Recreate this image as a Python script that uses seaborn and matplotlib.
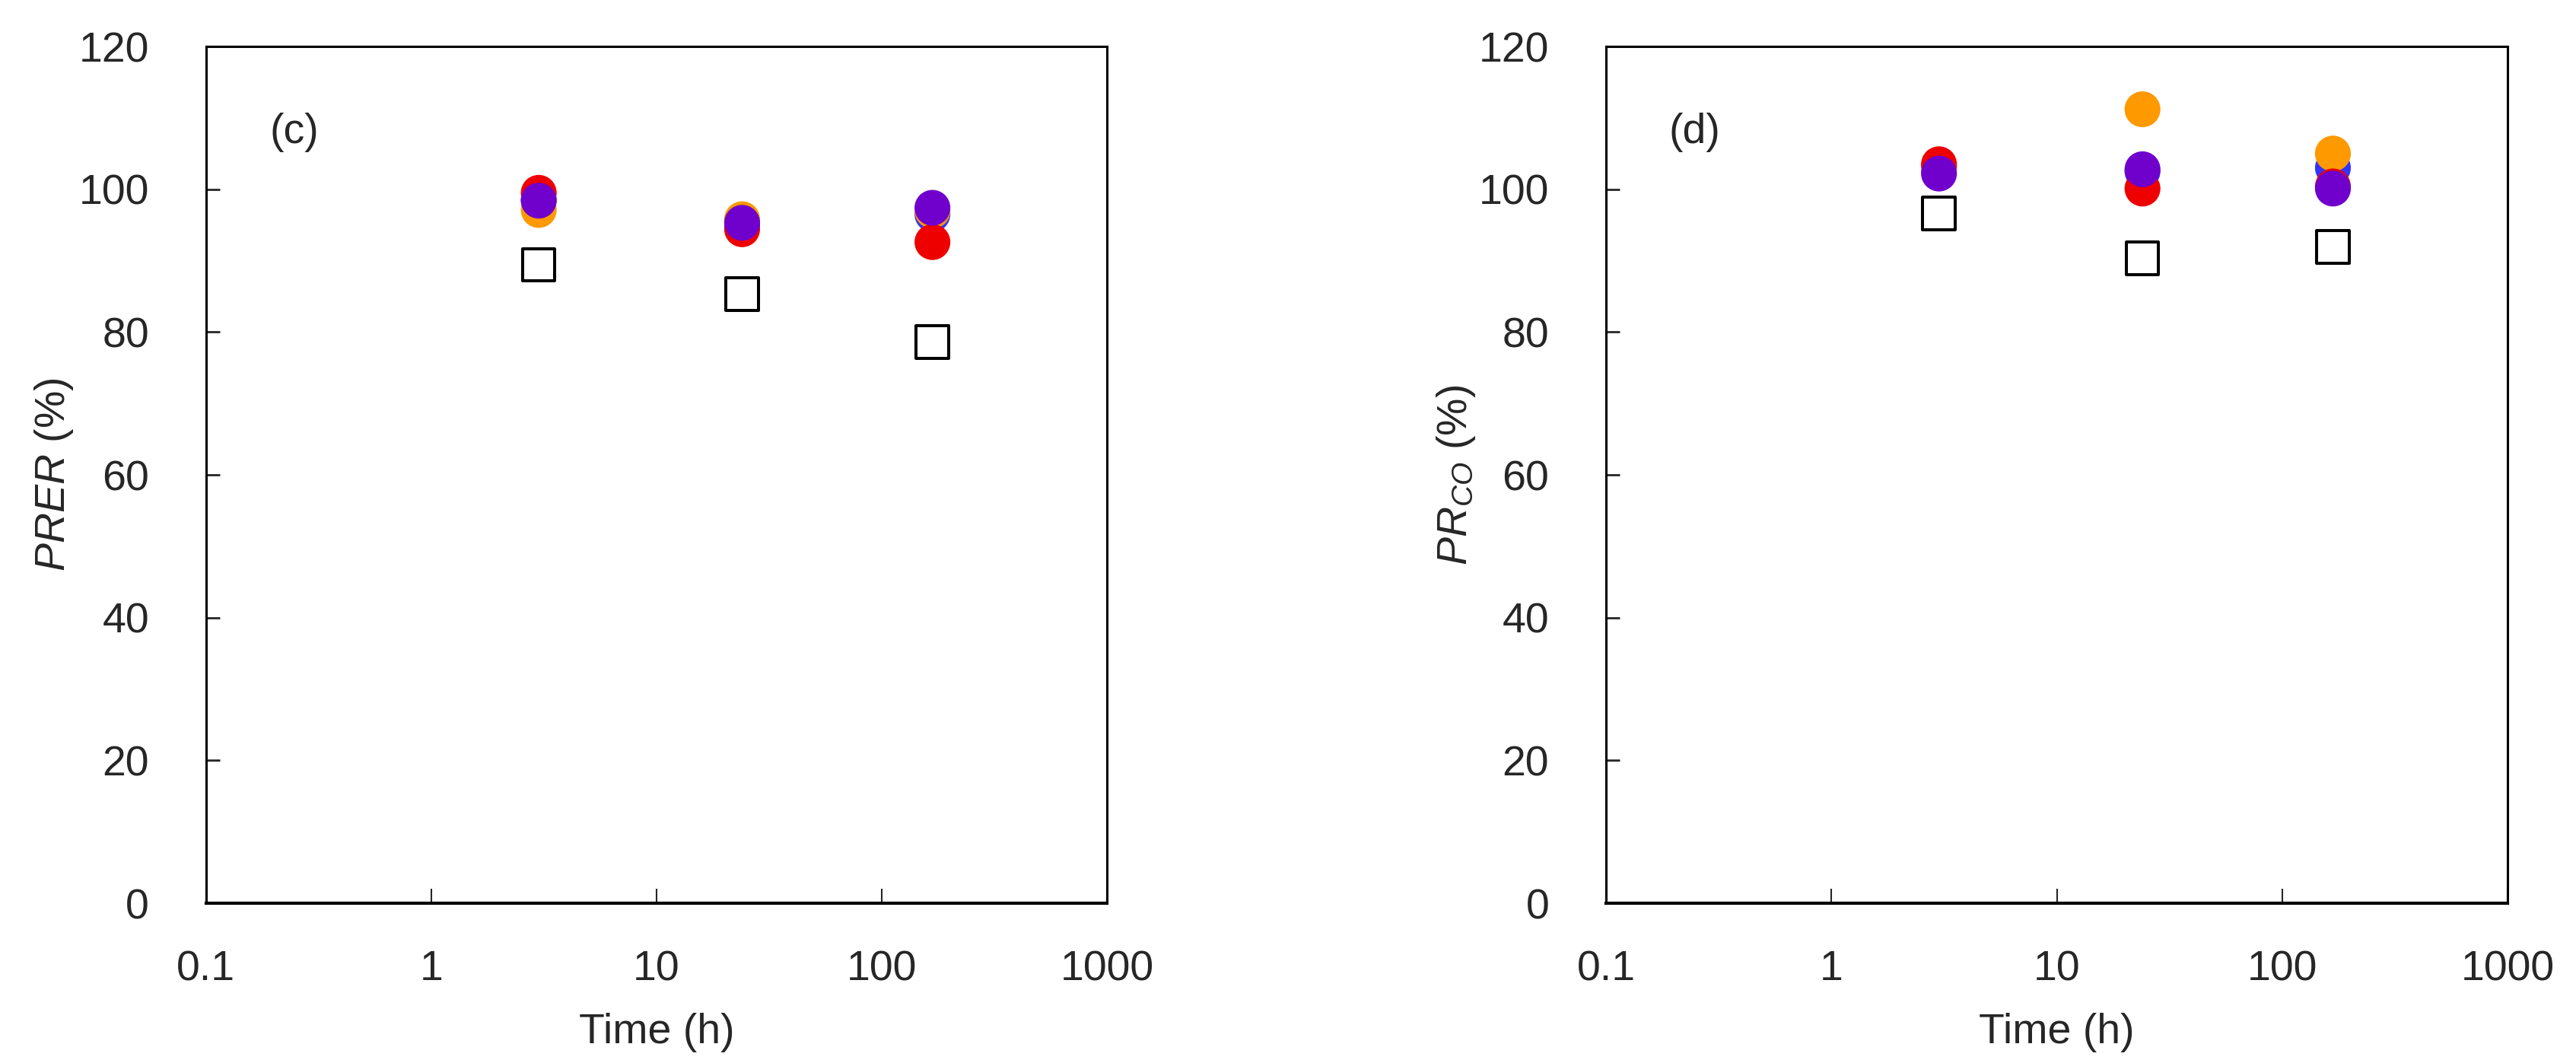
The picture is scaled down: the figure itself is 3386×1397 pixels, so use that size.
import pandas as pd
import numpy as np
import matplotlib.pyplot as plt
import seaborn as sns

# Données
times = [3, 24, 168]
series_names = ['blue', 'orange', 'red', 'purple']

blue_c = [98.5, 95.0, 96.5]
orange_c = [97.1, 95.8, 97.0]
red_c = [99.5, 94.4, 92.6]
purple_c = [98.4, 95.3, 97.4]
control_c = [89.4, 85.3, 78.6]

blue_d = [103.0, 102.5, 103.0]
orange_d = [103.0, 111.2, 105.0]
red_d = [103.5, 100.1, 100.4]
purple_d = [102.2, 102.8, 100.1]
control_d = [96.6, 90.3, 91.9]

xticks = [0.1, 1, 10, 100, 1000]
xtick_labels = ['0.1', '1', '10', '100', '1000']
yticks = [0, 20, 40, 60, 80, 100, 120]

palette = {'blue': '#3333ff', 'orange': '#ff9900', 'red': '#ee0000', 'purple': '#7000cc'}

sns.set_style('white')
plt.rcParams['font.family'] = ['Liberation Sans', 'DejaVu Sans']
plt.rcParams['mathtext.fontset'] = 'custom'
plt.rcParams['mathtext.it'] = 'Liberation Sans:italic'
plt.rcParams['mathtext.rm'] = 'Liberation Sans'


def long_df(cols):
    rows = []
    for name, vals in zip(series_names, cols):
        for t, v in zip(times, vals):
            rows.append({'time': t, 'value': v, 'series': name})
    return pd.DataFrame(rows)


def draw_panel(ax, cols, control, ylabel, tag, ylabel_pad):
    df = long_df(cols)
    sns.scatterplot(data=df, x='time', y='value', hue='series', palette=palette,
                    s=1150, linewidth=0, legend=False, ax=ax, zorder=3)
    ctrl = pd.DataFrame({'time': times, 'value': control})
    sns.scatterplot(data=ctrl, x='time', y='value', marker='s', s=940,
                    facecolors='none', edgecolor='black', linewidth=2.9,
                    legend=False, ax=ax, zorder=4)
    ax.set_xscale('log')
    ax.set_xlim(0.1, 1000)
    ax.set_ylim(0, 120)
    ax.set_xticks(xticks)
    ax.set_xticklabels(xtick_labels)
    ax.set_yticks(yticks)
    ax.minorticks_off()
    ax.tick_params(axis='y', direction='in', length=13, width=2, pad=54,
                   labelsize=40, left=True, right=False)
    ax.tick_params(axis='x', direction='in', length=14, width=1.5, pad=44,
                   labelsize=40, bottom=True, top=False)
    for sp in ax.spines.values():
        sp.set_linewidth(2.2)
        sp.set_color('black')
    ax.spines['bottom'].set_linewidth(3)
    ax.set_xlabel('Time (h)', fontsize=40, labelpad=22)
    ax.set_ylabel(ylabel, fontsize=40, labelpad=ylabel_pad)
    ax.text(0.098, 0.9, tag, transform=ax.transAxes, fontsize=40,
            ha='center', va='center')


fig = plt.figure(figsize=(33.86, 13.97), dpi=100)
ax_c = fig.add_axes([0.080, 0.1503, 0.3497, 0.806])
ax_d = fig.add_axes([0.6235, 0.1503, 0.3499, 0.806])

draw_panel(ax_c, [blue_c, orange_c, red_c, purple_c], control_c,
           r'$\mathit{PRER}$ (%)', '(c)', 3)
draw_panel(ax_d, [blue_d, orange_d, red_d, purple_d], control_d,
           r'$\mathit{PR}_{\mathit{CO}}$ (%)', '(d)', 1)

fig.savefig('out.png', dpi=100, facecolor='white')
